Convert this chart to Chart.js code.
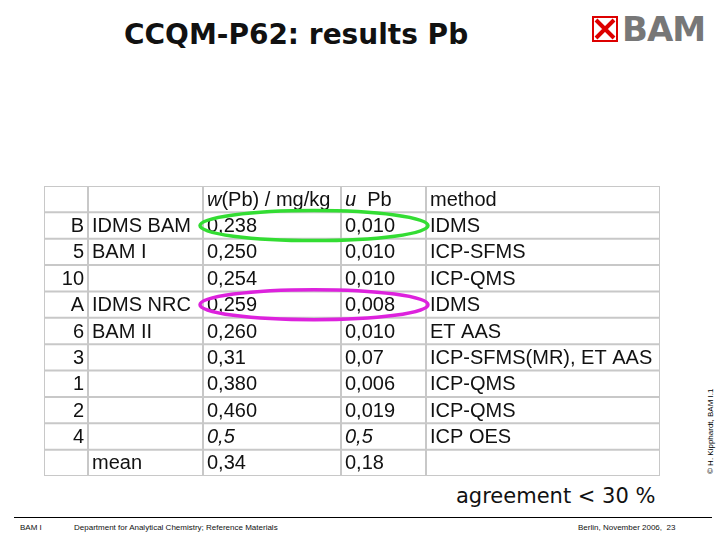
<!DOCTYPE html>
<html><head><meta charset="utf-8">
<script src="https://cdn.jsdelivr.net/npm/chart.js@4"></script>
<style>
body{margin:0;width:720px;height:540px;position:relative;background:#fff;font-family:"Liberation Sans",Arial,sans-serif;overflow:hidden}
#title{position:absolute;left:124px;top:18px;font-family:"DejaVu Sans";font-size:28px;font-weight:bold;color:#111}
#logo{position:absolute;left:592px;top:14px;height:30px;display:flex;align-items:center}
#logo .x{width:26px;height:26px;border:2px solid #d00;box-sizing:border-box;position:relative;margin-right:4px}
#logo .b{font-family:"DejaVu Sans";font-weight:bold;font-size:34px;color:#777;letter-spacing:-1px}
#wrap{position:absolute;left:44px;top:186px;width:616px;height:290px}
#agree{position:absolute;left:456px;top:484px;font-family:"DejaVu Sans";font-size:21px;color:#111}
#rule{position:absolute;left:14px;top:517px;width:698px;border-top:1px solid #000}
.foot{position:absolute;top:523px;font-size:8px;color:#111}
#copy{position:absolute;left:706px;top:474px;transform:rotate(-90deg);transform-origin:0 0;font-size:8px;white-space:nowrap}
</style></head><body>
<div id="title">CCQM-P62: results Pb</div>
<div id="logo"><div class="x"><svg width="22" height="22"><path d="M2 2L20 20M20 2L2 20" stroke="#d00" stroke-width="4"/></svg></div><span class="b">BAM</span></div>
<div id="wrap"><canvas id="c"></canvas></div>
<div id="agree">agreement &lt; 30 %</div>
<div id="rule"></div>
<div class="foot" style="left:20px">BAM I</div>
<div class="foot" style="left:74px">Department for Analytical Chemistry; Reference Materials</div>
<div class="foot" style="left:578px">Berlin, November 2006,&nbsp; 23</div>
<div id="copy">© H. Kipphardt, BAM I.1</div>
<script>
const labs = ['', 'B', '5', '10', 'A', '6', '3', '1', '2', '4', ''];
const names = ['', 'IDMS BAM', 'BAM I', '', 'IDMS NRC', 'BAM II', '', '', '', '', 'mean'];
const values = ['w(Pb) / mg/kg', '0,238', '0,250', '0,254', '0,259', '0,260', '0,31', '0,380', '0,460', '0,5', '0,34'];
const uncert = ['u  Pb', '0,010', '0,010', '0,010', '0,008', '0,010', '0,07', '0,006', '0,019', '0,5', '0,18'];
const methods = ['method', 'IDMS', 'ICP-SFMS', 'ICP-QMS', 'IDMS', 'ET AAS', 'ICP-SFMS(MR), ET AAS', 'ICP-QMS', 'ICP-QMS', 'ICP OES', ''];
const italicRows = [9];
const colEdges = [0, 44, 159, 297, 382, 616];
const rings = [{ row: 1, color: '#33dd33' }, { row: 4, color: '#dd22dd' }];

const tablePlugin = {
  id: 'table',
  afterDraw(chart) {
    const { ctx, scales: { x, y } } = chart;
    const rows = labs.length;
    ctx.save();
    ctx.strokeStyle = '#c8c8c8';
    ctx.lineWidth = 2;
    for (let r = 0; r <= rows; r++) {
      ctx.beginPath(); ctx.moveTo(x.getPixelForValue(0), y.getPixelForValue(r));
      ctx.lineTo(x.getPixelForValue(616), y.getPixelForValue(r)); ctx.stroke();
    }
    colEdges.forEach(c => {
      ctx.beginPath(); ctx.moveTo(x.getPixelForValue(c), y.getPixelForValue(0));
      ctx.lineTo(x.getPixelForValue(c), y.getPixelForValue(rows)); ctx.stroke();
    });
    ctx.fillStyle = '#111';
    ctx.textBaseline = 'middle';
    for (let r = 0; r < rows; r++) {
      const cy = y.getPixelForValue(r + 0.5) + 1;
      const it = italicRows.includes(r) ? 'italic ' : '';
      ctx.font = '20px "Liberation Sans", Arial';
      ctx.textAlign = 'right';
      ctx.fillText(labs[r], x.getPixelForValue(colEdges[1] - 4), cy);
      ctx.textAlign = 'left';
      ctx.fillText(names[r], x.getPixelForValue(colEdges[1] + 4), cy);
      if (r === 0) {
        ctx.font = 'italic 20px "Liberation Sans", Arial';
        ctx.fillText('w', x.getPixelForValue(colEdges[2] + 4), cy);
        const w = ctx.measureText('w').width;
        ctx.font = '20px "Liberation Sans", Arial';
        ctx.fillText(values[r].slice(1), x.getPixelForValue(colEdges[2] + 4) + w, cy);
        ctx.font = 'italic 20px "Liberation Sans", Arial';
        ctx.fillText('u', x.getPixelForValue(colEdges[3] + 4), cy);
        const w2 = ctx.measureText('u').width;
        ctx.font = '20px "Liberation Sans", Arial';
        ctx.fillText(uncert[r].slice(1), x.getPixelForValue(colEdges[3] + 4) + w2, cy);
      } else {
        ctx.font = it + '20px "Liberation Sans", Arial';
        ctx.fillText(values[r], x.getPixelForValue(colEdges[2] + 4), cy);
        ctx.fillText(uncert[r], x.getPixelForValue(colEdges[3] + 4), cy);
      }
      ctx.font = '20px "Liberation Sans", Arial';
      ctx.fillText(methods[r], x.getPixelForValue(colEdges[4] + 4), cy);
    }
    ctx.lineWidth = 3.5;
    rings.forEach(rg => {
      const cx = x.getPixelForValue(270), cy = y.getPixelForValue(rg.row + 0.5);
      ctx.strokeStyle = rg.color;
      ctx.beginPath();
      ctx.ellipse(cx, cy, 114, 15, 0, 0, Math.PI * 2);
      ctx.stroke();
    });
    ctx.restore();
  }
};

new Chart(document.getElementById('c'), {
  type: 'scatter',
  data: { datasets: [{ data: [] }] },
  options: {
    responsive: true, maintainAspectRatio: false, animation: false,
    layout: { padding: 0 },
    plugins: { legend: { display: false }, tooltip: { enabled: false } },
    scales: {
      x: { type: 'linear', min: 0, max: 616, display: false },
      y: { type: 'linear', min: 0, max: labs.length, reverse: true, display: false }
    }
  },
  plugins: [tablePlugin]
});
</script>
</body></html>
